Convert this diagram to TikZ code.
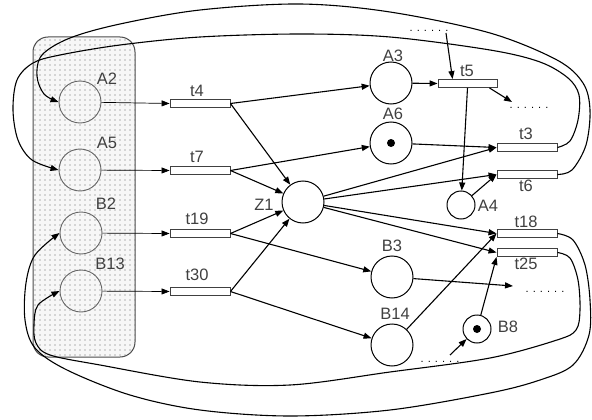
\documentclass[tikz,border=0pt]{standalone}
\usepackage{fontspec}
\setmainfont{Liberation Sans}
\usetikzlibrary{arrows.meta,patterns.meta,calc}
\begin{document}
\begin{tikzpicture}[x=1pt,y=-1pt,
 place/.style={circle,draw,line width=1pt,minimum size=42pt,inner sep=0pt},
 gplace/.style={place,draw=black!60,line width=0.9pt},
 splace/.style={circle,draw,line width=1pt,minimum size=28pt,inner sep=0pt},
 trans/.style={rectangle,draw=black!75,fill=white,line width=0.9pt,minimum width=60pt,minimum height=8pt,inner sep=0pt},
 lbl/.style={font=\fontsize{16.5}{16.5}\selectfont,text=black!75,inner sep=0pt},
 dotsl/.style={font=\fontsize{11}{11}\selectfont,inner sep=0pt},
 arc/.style={line width=1.1pt,-{Triangle[length=8pt,width=6pt]}},
 thinarc/.style={line width=0.7pt,-{Triangle[length=8pt,width=6pt]}},
 loop/.style={line width=1.1pt,-{Triangle[length=8pt,width=6pt]}},
 token/.style={circle,fill=black,minimum size=8pt,inner sep=0pt}]
\useasboundingbox (0,0) rectangle (592,420);
% dotted box
\path[fill=gray!6,rounded corners=15pt] (33,37) rectangle (135,357);
\path[pattern={Dots[radius=0.55pt,distance=5pt]},pattern color=black!60,rounded corners=15pt] (33,37) rectangle (135,357);
\draw[black!70,line width=1pt,rounded corners=15pt] (33,37) rectangle (135,357);
% places in box
\node[gplace] (A2) at (80,102) {};
\node[gplace] (A5) at (80,170) {};
\node[gplace] (B2) at (81,233) {};
\node[gplace] (B13) at (81,291) {};
\node[lbl] (lA2) at (107,79) {A2};
\node[lbl] (lA5) at (107,143) {A5};
\node[lbl] (lB2) at (106,204) {B2};
\node[lbl] (lB13) at (110,264) {B13};
% transitions left
\node[trans] (t4) at (200,103.5) {};
\node[trans] (t7) at (200,170.5) {};
\node[trans] (t19) at (200,233.5) {};
\node[trans] (t30) at (200,291.5) {};
\node[lbl] (lt4) at (197,91) {t4};
\node[lbl] (lt7) at (197,157) {t7};
\node[lbl] (lt19) at (197,219) {t19};
\node[lbl] (lt30) at (197,275) {t30};
% middle
\node[place] (Z1) at (303,202) {};
\node[lbl] (lZ1) at (264,205) {Z1};
\node[place] (A3) at (391,83) {};
\node[place] (A6) at (391,143) {};
\node[token] (tokA6) at (391,143) {};
\node[place] (B3) at (392,277) {};
\node[place] (B14) at (392,345) {};
\node[lbl] (lA3) at (393,56) {A3};
\node[lbl] (lA6) at (393,114) {A6};
\node[lbl] (lB3) at (392,246) {B3};
\node[lbl] (lB14) at (395,314) {B14};
% right transitions
\node[trans,minimum width=59pt] (t5) at (467.5,83.5) {};
\node[trans] (t3) at (527,147.5) {};
\node[trans] (t6) at (527,174.5) {};
\node[trans] (t18) at (527,233.5) {};
\node[trans] (t25) at (527,252.5) {};
\node[lbl] (lt5) at (467,71) {t5};
\node[lbl] (lt3) at (526,134) {t3};
\node[lbl] (lt6) at (526,186) {t6};
\node[lbl] (lt18) at (526,222) {t18};
\node[lbl] (lt25) at (526,264) {t25};
\node[splace] (A4) at (461,205) {};
\node[lbl] (lA4) at (488,206) {A4};
\node[splace] (B8) at (477,329) {};
\node[token] (tokB8) at (477,329) {};
\node[lbl] (lB8) at (508,327) {B8};
% dots
\node[dotsl] (d1) at (429,31) {. . . . . .};
\node[dotsl] (d2) at (529,108) {. . . . . .};
\node[dotsl] (d3) at (545,292) {. . . . . .};
\node[dotsl] (d4) at (440,362) {. . . . . .};
\coordinate (s1) at (446,33);
\coordinate (e2) at (512,102);
\coordinate (e3) at (513,286);
\coordinate (s4) at (450,355);
% input arcs
\draw[thinarc] (A2) -- (t4.west);
\draw[thinarc] (A5) -- (t7.west);
\draw[thinarc] (B2) -- (t19.west);
\draw[thinarc] (B13) -- (t30.west);
% middle arcs
\draw[arc] (t4.east) -- (A3);
\draw[arc] (t4.east) -- (Z1);
\draw[arc] (t7.east) -- (A6);
\draw[arc] (t7.east) -- (Z1);
\draw[arc] (t19.east) -- (Z1);
\draw[arc] (t19.east) -- (B3);
\draw[arc] (t30.east) -- (Z1);
\draw[arc] (t30.east) -- (B14);
\draw[arc] (A3) -- (t5.west);
\draw[arc] (A6) -- (t3.west);
\draw[arc] (Z1) -- (t3.west);
\draw[arc] (Z1) -- (t6.west);
\draw[arc] (Z1) -- (t18.west);
\draw[arc] (Z1) -- (t25.west);
\draw[arc] (s1) -- ($(t5.north west)+(15,0)$);
\draw[arc] ($(t5.south east)+(-8,0)$) -- (e2);
\draw[arc] (t5.south) -- (A4);
\draw[arc] (A4) -- (t6.west);
\draw[arc] (B3) -- (e3);
\draw[arc] (B14) -- (t18.west);
\draw[arc] (B8) -- (t25.south west);
\draw[arc] (s4) -- (B8);
% loops
\draw[loop] plot[smooth,tension=0.55] coordinates {(t6.east) (572,170) (586,145) (590,110) (583,83) (557,60) (490,33) (390,12) (300,4) (200,10) (120,24) (70,38) (42,55) (37,76) (44,94) (A2.west)};
\draw[loop] plot[smooth,tension=0.55] coordinates {(t3.east) (570,141) (578,120) (579,95) (568,78) (540,62) (490,50) (390,37) (300,34) (200,37) (120,45) (60,55) (33,63) (17,80) (13,110) (18,140) (32,160) (A5.west)};
\draw[loop] plot[smooth,tension=0.55] coordinates {(t18.east) (573,240) (585,265) (590,300) (589,335) (573,365) (540,380) (490,393) (390,410) (290,416) (200,410) (130,395) (67,370) (35,348) (25,320) (26,283) (35,255) (B2.west)};
\draw[loop] plot[smooth,tension=0.55] coordinates {(t25.east) (570,258) (578,280) (580,310) (576,330) (557,340) (490,358) (390,372) (290,385) (200,382) (100,365) (50,355) (36,343) (34,325) (38,305) (B13.west)};
\end{tikzpicture}
\end{document}
